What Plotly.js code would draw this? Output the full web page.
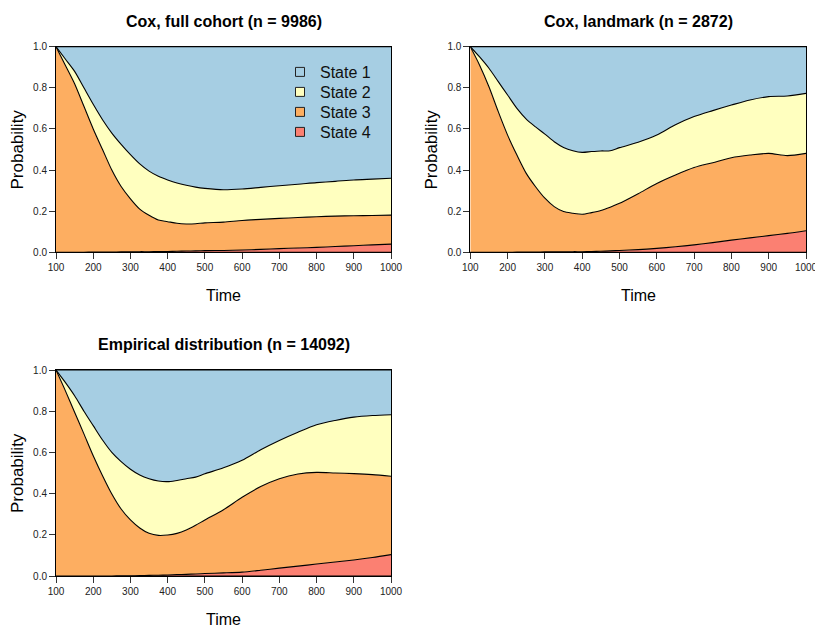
<!DOCTYPE html>
<html>
<head>
<meta charset="utf-8">
<script src="https://cdn.plot.ly/plotly-3.0.1.min.js"></script>
<style>html,body{margin:0;padding:0;background:#fff;}#chart{width:815px;height:628px;}</style>
</head>
<body>
<div id="chart"></div>
<script>
// Time grid
const time = [100,125,150,175,200,225,250,275,300,325,350,375,400,425,450,475,500,550,600,650,700,750,800,850,900,950,1000];

// Cumulative probabilities (upper boundary of stacked states, from bottom: State 4, State 3, State 2; State 1 fills to 1)
// Panel 1: Cox, full cohort
const full_s4 = [0,0,0,0.0005,0.001,0.001,0.0015,0.002,0.002,0.003,0.003,0.004,0.004,0.005,0.006,0.007,0.008,0.009,0.011,0.014,0.018,0.021,0.024,0.028,0.032,0.036,0.04];
const full_s34 = [1.0,0.91,0.82,0.71,0.60,0.50,0.40,0.32,0.26,0.21,0.18,0.157,0.149,0.141,0.138,0.139,0.143,0.147,0.155,0.16,0.165,0.169,0.173,0.176,0.178,0.179,0.181];
const full_s234 = [1.0,0.94,0.88,0.80,0.72,0.645,0.58,0.525,0.475,0.43,0.395,0.37,0.352,0.337,0.326,0.317,0.311,0.304,0.308,0.316,0.324,0.331,0.339,0.345,0.352,0.356,0.36];

// Panel 2: Cox, landmark
const land_s4 = [0,0,0,0,0,0.001,0.001,0.001,0.002,0.002,0.002,0.003,0.003,0.004,0.005,0.007,0.009,0.013,0.019,0.027,0.036,0.047,0.059,0.07,0.081,0.092,0.105];
const land_s34 = [1.0,0.91,0.805,0.684,0.57,0.473,0.384,0.319,0.263,0.222,0.198,0.19,0.185,0.193,0.203,0.219,0.238,0.285,0.335,0.376,0.412,0.436,0.46,0.473,0.481,0.47,0.481];
const land_s234 = [1.0,0.95,0.895,0.83,0.765,0.70,0.648,0.61,0.575,0.538,0.51,0.494,0.486,0.49,0.493,0.494,0.509,0.535,0.57,0.62,0.66,0.689,0.716,0.741,0.757,0.76,0.773];

// Panel 3: Empirical distribution
const emp_s4 = [0,0,0,0,0,0,0,0.001,0.001,0.002,0.003,0.004,0.005,0.007,0.008,0.01,0.012,0.015,0.019,0.028,0.038,0.048,0.058,0.068,0.078,0.09,0.104];
const emp_s34 = [1.0,0.90,0.795,0.69,0.584,0.487,0.398,0.325,0.272,0.233,0.207,0.197,0.199,0.207,0.223,0.246,0.272,0.322,0.382,0.434,0.472,0.495,0.503,0.50,0.497,0.492,0.484];
const emp_s234 = [1.0,0.94,0.875,0.80,0.73,0.66,0.60,0.555,0.518,0.49,0.472,0.461,0.458,0.464,0.472,0.48,0.496,0.525,0.562,0.613,0.658,0.698,0.734,0.755,0.771,0.779,0.783];

const ones = time.map(() => 1);
const zeros = time.map(() => 0);

const stateNames = ["State 1","State 2","State 3","State 4"];
const stateColors = ["#A6CEE3","#FFFFBF","#FDAE61","#FB8072"];

const panels = [
  {title: "Cox, full cohort (n = 9986)", s4: full_s4, s34: full_s34, s234: full_s234, xa: "x", ya: "y"},
  {title: "Cox, landmark (n = 2872)", s4: land_s4, s34: land_s34, s234: land_s234, xa: "x2", ya: "y2"},
  {title: "Empirical distribution (n = 14092)", s4: emp_s4, s34: emp_s34, s234: emp_s234, xa: "x3", ya: "y3"}
];

const traces = [];
panels.forEach(p => {
  const layers = [
    {y: zeros, fill: "none", color: stateColors[3]},
    {y: p.s4, fill: "tonexty", color: stateColors[3]},
    {y: p.s34, fill: "tonexty", color: stateColors[2]},
    {y: p.s234, fill: "tonexty", color: stateColors[1]},
    {y: ones, fill: "tonexty", color: stateColors[0]}
  ];
  layers.forEach(l => {
    traces.push({
      type: "scatter", mode: "lines", x: time, y: l.y, xaxis: p.xa, yaxis: p.ya,
      fill: l.fill, fillcolor: l.color,
      line: {color: "#000", width: 1.1, shape: "spline", smoothing: 0.8},
      showlegend: false, hoverinfo: "skip"
    });
  });
});

// legend entries (square keys), one legend per row for R-like spacing
const legendIds = ["legend", "legend2", "legend3", "legend4"];
stateNames.forEach((n, i) => {
  traces.push({
    type: "scatter", mode: "markers", x: [null], y: [null], xaxis: "x", yaxis: "y",
    name: n, showlegend: true, legend: legendIds[i],
    marker: {symbol: "square", size: 9, color: stateColors[i], line: {color: "#222", width: 1}}
  });
});

const W = 815, H = 628;
const px = v => v / W;
const py = v => 1 - v / H;

function xax(d0, d1, anchor) {
  return {domain: [px(d0), px(d1)], range: [100, 1000], anchor: anchor,
    tickvals: [100,200,300,400,500,600,700,800,900,1000],
    ticks: "outside", ticklen: 6, tickcolor: "#333", tickwidth: 1,
    showline: true, linecolor: "#000", linewidth: 1, mirror: true,
    showgrid: false, zeroline: false, ticklabeloverflow: "allow",
    tickfont: {family: "Liberation Sans, Arial, sans-serif", size: 10, color: "#222"}};
}
function yax(d0, d1, anchor) {
  return {domain: [py(d1), py(d0)], range: [0, 1], anchor: anchor,
    tickvals: [0,0.2,0.4,0.6,0.8,1.0], tickformat: ".1f",
    ticks: "outside", ticklen: 6, tickcolor: "#333", tickwidth: 1,
    showline: true, linecolor: "#000", linewidth: 1, mirror: true,
    showgrid: false, zeroline: false,
    tickfont: {family: "Liberation Sans, Arial, sans-serif", size: 10, color: "#222"}};
}

const titleFont = {family: "Liberation Sans, Arial, sans-serif", size: 16, color: "#000"};
const labFont = {family: "Liberation Sans, Arial, sans-serif", size: 16, color: "#000"};

const ann = [];
function addPanelText(title, x0, x1, y0, y1, titleY, timeY, probX) {
  ann.push({text: "<b>" + title + "</b>", xref: "paper", yref: "paper", x: px((x0 + x1) / 2), y: py(titleY),
    xanchor: "center", yanchor: "middle", showarrow: false, font: titleFont});
  ann.push({text: "Time", xref: "paper", yref: "paper", x: px((x0 + x1) / 2), y: py(timeY),
    xanchor: "center", yanchor: "middle", showarrow: false, font: labFont});
  ann.push({text: "Probability", xref: "paper", yref: "paper", x: px(probX), y: py((y0 + y1) / 2),
    xanchor: "center", yanchor: "middle", showarrow: false, textangle: -90,
    font: {family: "Liberation Sans, Arial, sans-serif", size: 17, color: "#000"}});
}
addPanelText(panels[0].title, 56, 391, 46.7, 252.3, 21, 295, 17);
addPanelText(panels[1].title, 470.3, 806, 46.7, 252.3, 21, 295, 431);
addPanelText(panels[2].title, 56, 391, 370, 576, 344, 619, 17);

function legendAt(row) {
  return {x: px(280), y: py(55 + 20 * row), xanchor: "left", yanchor: "top", bgcolor: "rgba(0,0,0,0)",
    font: {family: "Liberation Sans, Arial, sans-serif", size: 16, color: "#111"},
    itemwidth: 30};
}

const layout = {
  width: W, height: H,
  margin: {l: 0, r: 0, t: 0, b: 0},
  paper_bgcolor: "#fff", plot_bgcolor: "#fff",
  showlegend: true,
  legend: legendAt(0),
  legend2: legendAt(1),
  legend3: legendAt(2),
  legend4: legendAt(3),
  xaxis: xax(56, 391, "y"),
  yaxis: yax(46.7, 252.3, "x"),
  xaxis2: xax(470.3, 806, "y2"),
  yaxis2: yax(46.7, 252.3, "x2"),
  xaxis3: xax(56, 391, "y3"),
  yaxis3: yax(370, 576, "x3"),
  annotations: ann
};

Plotly.newPlot("chart", traces, layout, {staticPlot: true, displayModeBar: false});
</script>
</body>
</html>
